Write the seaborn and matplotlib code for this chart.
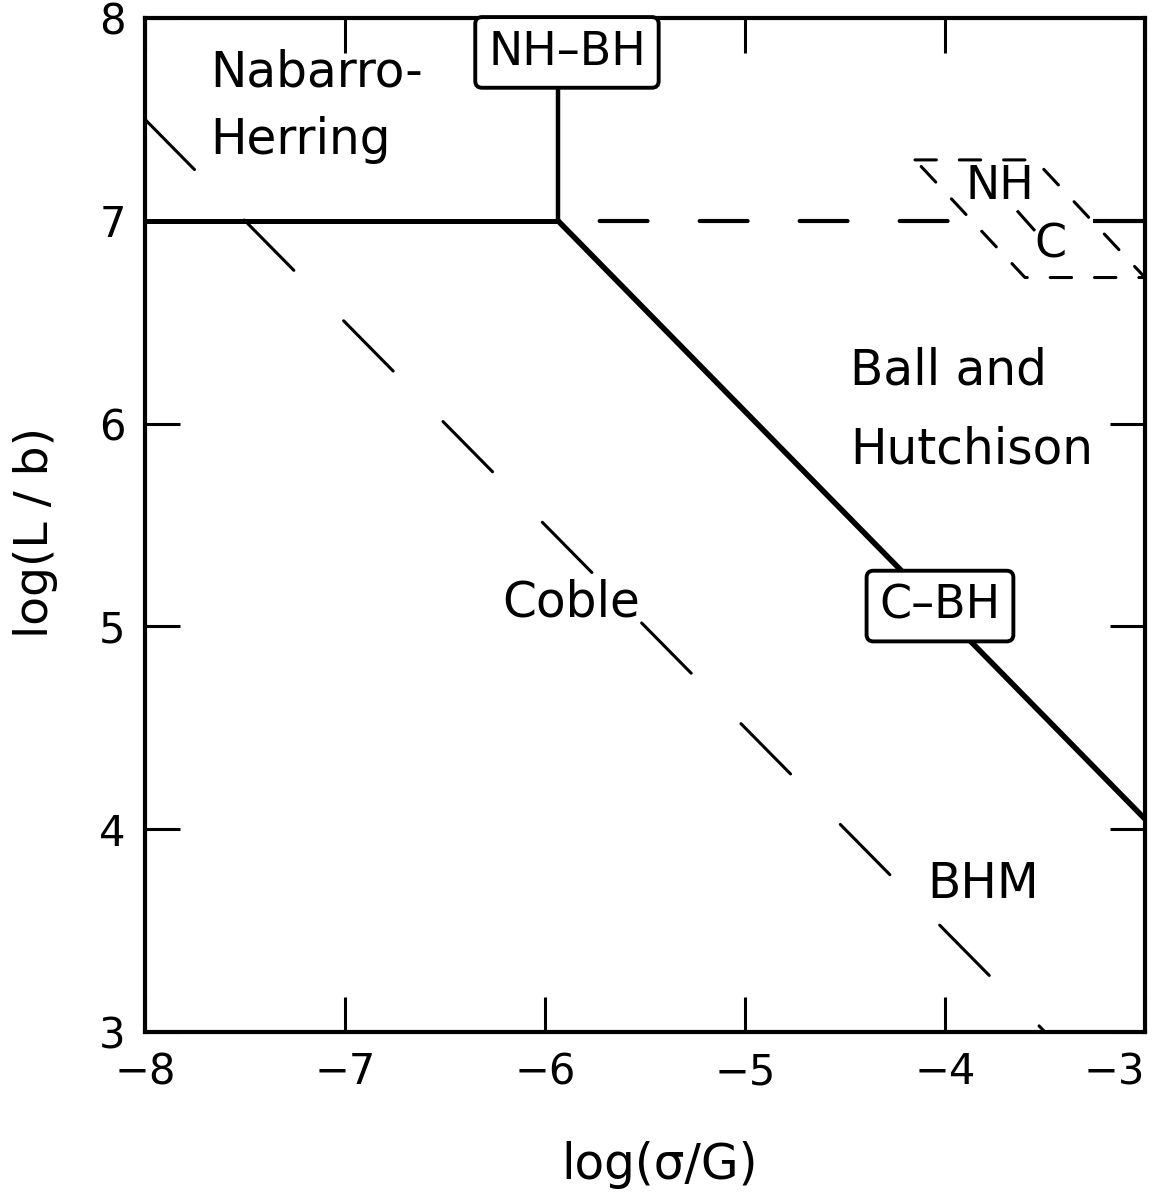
import matplotlib
matplotlib.use("Agg")
import matplotlib.pyplot as plt
import seaborn as sns
import pandas as pd

# ---------------- data ----------------
x_ticks = [-8, -7, -6, -5, -4, -3]
x_tick_labels = ["\u22128", "\u22127", "\u22126", "\u22125", "\u22124", "\u22123"]
y_ticks = [3, 4, 5, 6, 7, 8]
y_tick_labels = ["3", "4", "5", "6", "7", "8"]

# solid mechanism boundaries
nh_coble_x = [-8.0, -5.935]
nh_coble_y = [7.0, 7.0]
nh_bh_x = [-5.935, -5.935]
nh_bh_y = [7.0, 7.68]
coble_bh_x = [-5.935, -3.0]
coble_bh_y = [7.0, 4.05]

# dashed extension of NH/Coble boundary
nh_c_dash_x = [-5.935, -3.95]
nh_c_dash_y = [7.0, 7.0]
nh_c_end_x = [-3.26, -3.0]
nh_c_end_y = [7.0, 7.0]

# BHM dashed line
bhm_x = [-8.0, -3.5]
bhm_y = [7.5, 3.0]

# small dashed NH / C inset
inset_x = [-4.15, -3.55, -3.0, -3.6, -4.15]
inset_y = [7.30, 7.30, 6.72, 6.72, 7.30]
inset_mid_x = [-3.64, -3.55]
inset_mid_y = [7.05, 6.95]

# ---------------- style ----------------
sns.set_style("white")
plt.rcParams["font.family"] = ["DejaVu Sans"]
plt.rcParams["text.color"] = "black"

fig = plt.figure(figsize=(11.68, 12.04), dpi=100)
ax = fig.add_axes([0.1241, 0.1429, 0.8562, 0.8422])


def seg(x, y, lw, ls="-", solid_cap="butt"):
    df = pd.DataFrame({"x": x, "y": y})
    sns.lineplot(data=df, x="x", y="y", sort=False, estimator=None, ax=ax,
                 color="black", linewidth=lw, linestyle=ls,
                 solid_capstyle=solid_cap, dash_capstyle="round")


seg(nh_coble_x, nh_coble_y, 3.6)
seg(nh_bh_x, nh_bh_y, 3.2)
seg(coble_bh_x, coble_bh_y, 4.0)
seg(nh_c_dash_x, nh_c_dash_y, 3.0, ls=(14, (11.5, 12.5)))
seg(nh_c_end_x, nh_c_end_y, 3.0)
seg(bhm_x, bhm_y, 2.2, ls=(0, (23.1, 23.2)))
seg(inset_x, inset_y, 2.2, ls=(0, (7, 7.5)))
seg(inset_mid_x, inset_mid_y, 2.2)

ax.set_xlim(-8, -3)
ax.set_ylim(3, 8)
ax.set_xticks(x_ticks)
ax.set_xticklabels(x_tick_labels)
ax.set_yticks(y_ticks)
ax.set_yticklabels(y_tick_labels)
ax.tick_params(axis="both", which="both", direction="in", length=25, width=2.2,
               top=True, right=True, bottom=True, left=True,
               labelsize=30, color="black", labelcolor="black")
ax.tick_params(axis="x", pad=14)
ax.tick_params(axis="y", pad=14)
xl = ax.get_xticklabels()
xl[-1].set_horizontalalignment("right")
xl[-1].set_x(-3.0)
for s in ax.spines.values():
    s.set_visible(True)
    s.set_linewidth(3.0)
    s.set_color("black")

ax.set_xlabel("")
ax.set_ylabel("")
fig.text(660 / 1168, 1 - 1165 / 1204, "log(\u03c3/G)", fontsize=35, ha="center",
         va="center", color="black")
fig.text(36 / 1168, 1 - 533 / 1204, "log(L / b)", fontsize=34, ha="center",
         va="center", rotation=90, color="black")

txt = dict(fontsize=35, color="black")
ax.text(-7.675, 7.73, "Nabarro-", ha="left", va="center", **txt)
ax.text(-7.675, 7.40, "Herring", ha="left", va="center", **txt)
ax.text(-4.475, 6.26, "Ball and", ha="left", va="center", **txt)
ax.text(-4.475, 5.87, "Hutchison", ha="left", va="center", **txt)
ax.text(-5.87, 5.12, "Coble", ha="center", va="center", **txt)
ax.text(-3.81, 3.73, "BHM", ha="center", va="center", **txt)
ax.text(-3.725, 7.17, "NH", ha="center", va="center", fontsize=33, color="black")
ax.text(-3.475, 6.88, "C", ha="center", va="center", fontsize=33, color="black")

box = dict(boxstyle="round,pad=0.28,rounding_size=0.15", facecolor="white",
           edgecolor="black", linewidth=2.8)
ax.text(-5.89, 7.83, "NH\u2013BH", ha="center", va="center", bbox=box,
        fontsize=33, color="black")
ax.text(-4.025, 5.10, "C\u2013BH", ha="center", va="center", bbox=box,
        fontsize=33, color="black")

fig.savefig("out.png", dpi=100, facecolor="white")
